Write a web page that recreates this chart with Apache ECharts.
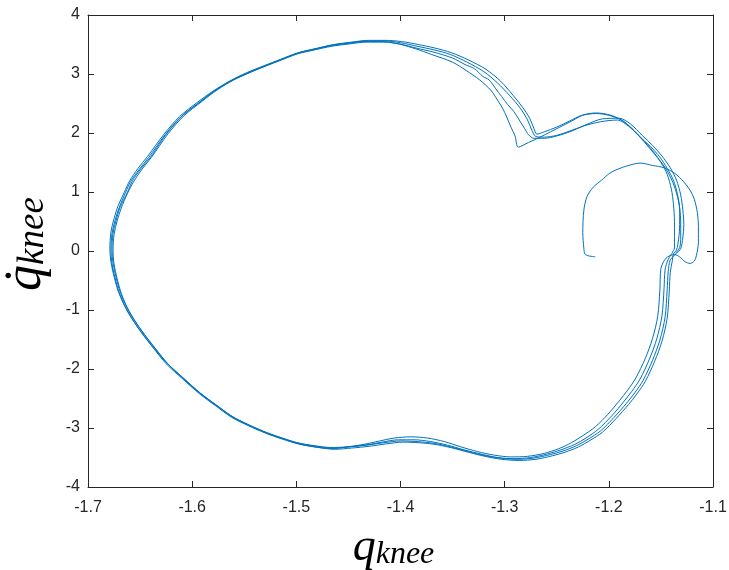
<!DOCTYPE html>
<html>
<head>
<meta charset="utf-8">
<script src="https://cdn.jsdelivr.net/npm/echarts@6/dist/echarts.min.js"></script>
<style>html,body{margin:0;padding:0;background:#fff;}#c{width:729px;height:570px;}</style>
</head>
<body>
<div id="c"></div>
<script>
// x: q_knee, y: qdot_knee  (pairs [x, y])
const xTicks = [-1.7, -1.6, -1.5, -1.4, -1.3, -1.2, -1.1];
const yTicks = [-4, -3, -2, -1, 0, 1, 2, 3, 4];

const transient = [[-1.213,-0.10],[-1.217,-0.09],[-1.220,-0.08],[-1.223,-0.05],[-1.224,0.05],[-1.225,0.31],[-1.224,0.69],[-1.221,0.92],[-1.215,1.08],[-1.207,1.20],[-1.199,1.32],[-1.191,1.39],[-1.183,1.44],[-1.170,1.49],[-1.158,1.45],[-1.147,1.41],[-1.137,1.32],[-1.128,1.17],[-1.122,1.03],[-1.118,0.88],[-1.115,0.65],[-1.114,0.42],[-1.114,0.15],[-1.116,-0.08],[-1.118,-0.17],[-1.122,-0.21],[-1.127,-0.18],[-1.132,-0.10],[-1.137,-0.06]];

const loopB = [[-1.137,-0.06],[-1.145,-0.12],[-1.150,-0.30],[-1.151,-0.66],[-1.153,-1.10],[-1.158,-1.48],[-1.165,-1.82],[-1.174,-2.15],[-1.182,-2.36],[-1.190,-2.54],[-1.201,-2.77],[-1.213,-2.98],[-1.225,-3.13],[-1.236,-3.25],[-1.248,-3.35],[-1.262,-3.43],[-1.278,-3.48],[-1.294,-3.49],[-1.310,-3.46],[-1.326,-3.40],[-1.342,-3.32],[-1.358,-3.23],[-1.374,-3.17],[-1.390,-3.15],[-1.406,-3.17],[-1.420,-3.22],[-1.436,-3.28],[-1.452,-3.32],[-1.467,-3.33],[-1.483,-3.30],[-1.499,-3.25],[-1.514,-3.17],[-1.530,-3.07],[-1.547,-2.94],[-1.563,-2.79],[-1.578,-2.60],[-1.594,-2.39],[-1.610,-2.14],[-1.626,-1.87],[-1.638,-1.62],[-1.649,-1.37],[-1.658,-1.14],[-1.665,-0.92],[-1.671,-0.68],[-1.675,-0.43],[-1.678,-0.18],[-1.679,0.04],[-1.678,0.32],[-1.675,0.55],[-1.671,0.77],[-1.665,1.00],[-1.660,1.19],[-1.652,1.40],[-1.643,1.60],[-1.627,1.98],[-1.612,2.28],[-1.595,2.52],[-1.580,2.71],[-1.564,2.88],[-1.548,3.02],[-1.531,3.14],[-1.515,3.25],[-1.500,3.35],[-1.483,3.42],[-1.468,3.48],[-1.450,3.52],[-1.434,3.55],[-1.417,3.55],[-1.402,3.51],[-1.386,3.43],[-1.370,3.33],[-1.350,3.20],[-1.337,3.06],[-1.324,2.90],[-1.313,2.72],[-1.307,2.56],[-1.302,2.42],[-1.298,2.27],[-1.294,2.10],[-1.290,1.95],[-1.287,1.76],[-1.277,1.84],[-1.266,1.93],[-1.256,2.02],[-1.247,2.10],[-1.236,2.20],[-1.225,2.30],[-1.212,2.33],[-1.200,2.30],[-1.188,2.22],[-1.178,2.08],[-1.168,1.90],[-1.158,1.70],[-1.150,1.50],[-1.144,1.30],[-1.140,1.05],[-1.138,0.80],[-1.137,0.50],[-1.137,0.25],[-1.137,0.05],[-1.139,-0.03]];

const loopC = [[-1.139,-0.04],[-1.143,-0.14],[-1.146,-0.32],[-1.147,-0.64],[-1.149,-1.10],[-1.154,-1.49],[-1.161,-1.83],[-1.170,-2.17],[-1.178,-2.38],[-1.186,-2.56],[-1.197,-2.79],[-1.210,-3.02],[-1.222,-3.17],[-1.233,-3.28],[-1.246,-3.37],[-1.259,-3.44],[-1.275,-3.50],[-1.291,-3.52],[-1.307,-3.50],[-1.323,-3.44],[-1.339,-3.37],[-1.355,-3.29],[-1.371,-3.23],[-1.387,-3.20],[-1.402,-3.20],[-1.418,-3.24],[-1.434,-3.29],[-1.450,-3.32],[-1.466,-3.35],[-1.482,-3.32],[-1.498,-3.27],[-1.513,-3.19],[-1.529,-3.09],[-1.546,-2.96],[-1.562,-2.82],[-1.577,-2.63],[-1.593,-2.42],[-1.609,-2.17],[-1.625,-1.91],[-1.637,-1.65],[-1.648,-1.40],[-1.657,-1.17],[-1.664,-0.96],[-1.670,-0.71],[-1.674,-0.46],[-1.677,-0.21],[-1.678,0.01],[-1.677,0.29],[-1.674,0.52],[-1.670,0.74],[-1.664,0.99],[-1.659,1.18],[-1.651,1.38],[-1.642,1.58],[-1.626,1.97],[-1.611,2.27],[-1.594,2.51],[-1.579,2.71],[-1.563,2.88],[-1.547,3.01],[-1.530,3.13],[-1.514,3.24],[-1.499,3.34],[-1.482,3.41],[-1.466,3.47],[-1.449,3.51],[-1.433,3.54],[-1.416,3.54],[-1.401,3.51],[-1.385,3.44],[-1.368,3.37],[-1.350,3.27],[-1.338,3.16],[-1.329,3.09],[-1.321,2.96],[-1.315,2.90],[-1.309,2.76],[-1.303,2.62],[-1.297,2.48],[-1.291,2.36],[-1.286,2.22],[-1.281,2.08],[-1.277,1.97],[-1.272,1.91],[-1.262,1.91],[-1.250,1.95],[-1.236,2.03],[-1.222,2.14],[-1.206,2.24],[-1.190,2.25],[-1.179,2.15],[-1.168,1.96],[-1.158,1.79],[-1.149,1.61],[-1.141,1.41],[-1.135,1.20],[-1.131,0.95],[-1.129,0.70],[-1.128,0.45],[-1.129,0.22],[-1.131,0.04],[-1.135,-0.04]];

const loopA = [[-1.135,-0.04],[-1.141,-0.15],[-1.143,-0.35],[-1.144,-0.66],[-1.146,-1.12],[-1.151,-1.51],[-1.158,-1.85],[-1.167,-2.19],[-1.175,-2.40],[-1.183,-2.58],[-1.195,-2.82],[-1.208,-3.05],[-1.220,-3.19],[-1.231,-3.30],[-1.244,-3.39],[-1.256,-3.45],[-1.272,-3.51],[-1.288,-3.53],[-1.305,-3.51],[-1.321,-3.46],[-1.337,-3.39],[-1.352,-3.32],[-1.368,-3.26],[-1.384,-3.23],[-1.400,-3.22],[-1.416,-3.25],[-1.432,-3.29],[-1.449,-3.32],[-1.465,-3.34],[-1.481,-3.31],[-1.497,-3.26],[-1.512,-3.18],[-1.528,-3.08],[-1.545,-2.95],[-1.561,-2.81],[-1.576,-2.62],[-1.592,-2.41],[-1.608,-2.16],[-1.624,-1.90],[-1.636,-1.64],[-1.647,-1.39],[-1.656,-1.16],[-1.663,-0.95],[-1.669,-0.70],[-1.673,-0.45],[-1.676,-0.20],[-1.677,0.02],[-1.676,0.30],[-1.673,0.52],[-1.669,0.75],[-1.662,1.00],[-1.657,1.20],[-1.649,1.40],[-1.640,1.59],[-1.632,1.80],[-1.624,2.00],[-1.609,2.30],[-1.592,2.53],[-1.577,2.73],[-1.561,2.90],[-1.545,3.03],[-1.528,3.15],[-1.512,3.26],[-1.497,3.36],[-1.480,3.43],[-1.465,3.49],[-1.448,3.53],[-1.432,3.56],[-1.415,3.56],[-1.400,3.53],[-1.384,3.47],[-1.368,3.41],[-1.352,3.33],[-1.336,3.20],[-1.320,3.04],[-1.307,2.85],[-1.295,2.63],[-1.285,2.42],[-1.278,2.22],[-1.274,2.05],[-1.270,1.94],[-1.262,1.93],[-1.250,1.96],[-1.238,2.03],[-1.224,2.12],[-1.208,2.19],[-1.192,2.22],[-1.180,2.10],[-1.170,1.93],[-1.160,1.77],[-1.151,1.59],[-1.144,1.40],[-1.138,1.20],[-1.134,0.95],[-1.132,0.70],[-1.132,0.45],[-1.133,0.20],[-1.135,0.02],[-1.138,-0.05]];

const loopD = [[-1.138,-0.05],[-1.139,-0.16],[-1.141,-0.36],[-1.142,-0.68],[-1.144,-1.14],[-1.149,-1.53],[-1.156,-1.87],[-1.165,-2.21],[-1.173,-2.42],[-1.181,-2.60],[-1.193,-2.84],[-1.206,-3.07],[-1.218,-3.21],[-1.229,-3.32],[-1.242,-3.41],[-1.254,-3.47],[-1.270,-3.53],[-1.286,-3.55],[-1.303,-3.53],[-1.319,-3.48],[-1.335,-3.41],[-1.350,-3.34],[-1.366,-3.28],[-1.382,-3.25],[-1.398,-3.24],[-1.414,-3.27],[-1.430,-3.31],[-1.447,-3.34],[-1.463,-3.36],[-1.479,-3.33],[-1.495,-3.28],[-1.510,-3.20],[-1.527,-3.10],[-1.544,-2.97],[-1.560,-2.83],[-1.575,-2.64],[-1.591,-2.43],[-1.607,-2.18],[-1.623,-1.92],[-1.635,-1.66],[-1.646,-1.41],[-1.655,-1.18],[-1.662,-0.97],[-1.668,-0.72],[-1.672,-0.47],[-1.675,-0.22],[-1.676,0.00],[-1.675,0.28],[-1.672,0.51],[-1.668,0.73],[-1.662,0.98],[-1.656,1.18],[-1.648,1.39],[-1.639,1.59],[-1.623,1.99],[-1.608,2.29],[-1.591,2.53],[-1.576,2.73],[-1.560,2.90],[-1.544,3.03],[-1.527,3.16],[-1.511,3.27],[-1.496,3.37],[-1.479,3.44],[-1.464,3.50],[-1.447,3.54],[-1.431,3.57],[-1.414,3.57],[-1.399,3.55],[-1.383,3.50],[-1.367,3.44],[-1.351,3.36],[-1.335,3.24],[-1.318,3.08],[-1.304,2.88],[-1.292,2.64],[-1.283,2.44],[-1.276,2.25],[-1.272,2.08],[-1.269,1.98],[-1.262,2.02],[-1.250,2.10],[-1.238,2.20],[-1.226,2.30],[-1.212,2.34],[-1.198,2.30],[-1.186,2.20],[-1.176,2.04],[-1.166,1.85],[-1.156,1.64],[-1.147,1.44],[-1.140,1.22],[-1.135,0.98],[-1.132,0.73],[-1.131,0.48],[-1.131,0.24],[-1.132,0.06],[-1.136,-0.04]];

const trajectory = transient.concat(loopB, loopC, loopA, loopD);

const axisColor = '#262626';
const tickFont = {fontFamily: 'Liberation Sans, Arial, sans-serif', fontSize: 16, color: axisColor};
const chart = echarts.init(document.getElementById('c'), null, {renderer: 'canvas'});
const baseX = {
  type: 'value', min: xTicks[0], max: xTicks[xTicks.length - 1], interval: 0.1,
  axisLine: {show: true, onZero: false, lineStyle: {color: axisColor, width: 1}},
  axisTick: {show: true, inside: true, length: 6, lineStyle: {color: axisColor}},
  splitLine: {show: false}
};
const baseY = {
  type: 'value', min: yTicks[0], max: yTicks[yTicks.length - 1], interval: 1,
  axisLine: {show: true, onZero: false, lineStyle: {color: axisColor, width: 1}},
  axisTick: {show: true, inside: true, length: 6, lineStyle: {color: axisColor}},
  splitLine: {show: false}
};
chart.setOption({
  animation: false,
  backgroundColor: '#ffffff',
  grid: {left: 88, right: 16, top: 15, bottom: 83, containLabel: false, outerBoundsMode: 'none'},
  xAxis: [
    Object.assign({}, baseX, {
      position: 'bottom',
      axisLabel: Object.assign({margin: 13, formatter: v => v.toFixed(1)}, tickFont),
      name: '{q|q}{s|knee}', nameLocation: 'middle', nameGap: 38,
      nameTextStyle: {
        padding: [0, 14, 0, 0],
        rich: {
          q: {fontFamily: 'Liberation Serif', fontStyle: 'italic', fontSize: 46, color: '#000', verticalAlign: 'bottom'},
          s: {fontFamily: 'Liberation Serif', fontStyle: 'italic', fontSize: 32, color: '#000', verticalAlign: 'bottom'}
        }
      }
    }),
    Object.assign({}, baseX, {position: 'top', axisLabel: {show: false}})
  ],
  yAxis: [
    Object.assign({}, baseY, {
      position: 'left',
      axisLabel: Object.assign({margin: 8, formatter: v => String(v)}, tickFont),
      name: '{q|q\u0307}{s|knee}', nameLocation: 'middle', nameGap: 36, nameRotate: 90,
      nameTextStyle: {
        padding: [0, 0, 0, 14],
        rich: {
          q: {fontFamily: 'Liberation Serif', fontStyle: 'italic', fontSize: 52, color: '#000', verticalAlign: 'bottom'},
          s: {fontFamily: 'Liberation Serif', fontStyle: 'italic', fontSize: 37, color: '#000', verticalAlign: 'bottom'}
        }
      }
    }),
    Object.assign({}, baseY, {position: 'right', axisLabel: {show: false}})
  ],
  series: [{
    type: 'line',
    xAxisIndex: 0, yAxisIndex: 0,
    data: trajectory,
    showSymbol: false,
    smooth: 0.3,
    lineStyle: {color: '#0072BD', width: 1},
    silent: true
  }]
});
</script>
</body>
</html>
